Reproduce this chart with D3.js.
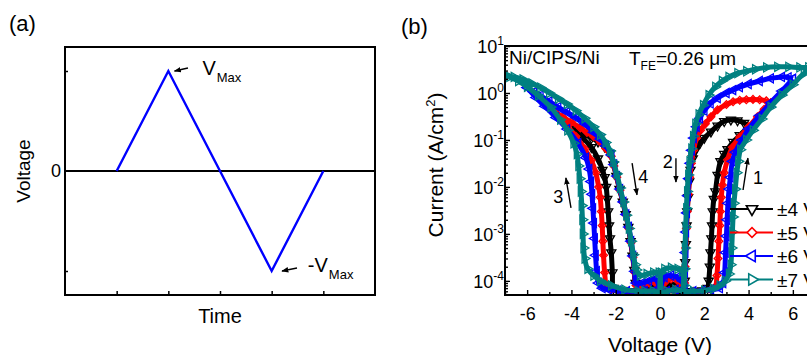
<!DOCTYPE html>
<html>
<head>
<meta charset="utf-8">
<script src="https://cdn.jsdelivr.net/npm/d3@7"></script>
<style>
  body { margin: 0; background: #fff; }
  svg { display: block; }
</style>
</head>
<body>
<svg id="chart" width="807" height="355"></svg>
<script>
// ---- panel (a): one period of the triangular voltage wave
const waveTime = [0, 1, 2, 3, 4];
const waveVolt = [0, 1, 0, -1, 0];

// ---- panel (b): J-V loops, each branch as [V, J]
// branch 1: 0 -> +Vmax, 2: +Vmax -> 0, 3: 0 -> -Vmax, 4: -Vmax -> 0
const black1 = [[0, 5e-5], [0.3, 6e-5], [0.7, 6e-5], [1.1, 5.8e-5], [1.5, 6e-5], [1.9, 6.2e-5], [2.15, 7e-5], [2.2, 1e-4], [2.25, 2e-4], [2.28, 4e-4], [2.32, 8e-4], [2.35, 1.5e-3], [2.38, 3e-3], [2.43, 5.5e-3], [2.5, 8e-3], [2.6, 0.018], [2.73, 0.035], [2.9, 0.05], [3.05, 0.063], [3.3, 0.09], [3.6, 0.125], [4.0, 0.19]];
const black2 = [[4.0, 0.19], [3.8, 0.23], [3.5, 0.26], [3.2, 0.27], [2.9, 0.25], [2.6, 0.2], [2.3, 0.15], [2.0, 0.11], [1.8, 0.085], [1.6, 0.06], [1.48, 0.04], [1.38, 0.023], [1.32, 0.013], [1.27, 6e-3], [1.23, 3e-3], [1.2, 1.5e-3], [1.17, 6e-4], [1.14, 2.5e-4], [1.12, 1e-4], [1.1, 6e-5], [1.0, 7e-5], [0.7, 8e-5], [0.4, 8e-5], [0.1, 7e-5], [0, 5e-5]];
const black3 = [[0, 5e-5], [-0.3, 6e-5], [-0.7, 6e-5], [-1.1, 6e-5], [-1.5, 6e-5], [-1.9, 6.2e-5], [-2.1, 7e-5], [-2.15, 1.5e-4], [-2.2, 4e-4], [-2.26, 8e-4], [-2.3, 1.5e-3], [-2.34, 3e-3], [-2.38, 5.5e-3], [-2.43, 0.01], [-2.5, 0.016], [-2.6, 0.023], [-2.8, 0.04], [-3.1, 0.07], [-3.5, 0.11], [-4.0, 0.17]];
const black4 = [[-4.0, 0.17], [-3.7, 0.15], [-3.4, 0.13], [-3.1, 0.11], [-2.8, 0.092], [-2.5, 0.072], [-2.25, 0.052], [-2.1, 0.03], [-1.97, 0.017], [-1.83, 9e-3], [-1.68, 4.8e-3], [-1.55, 2.6e-3], [-1.43, 1.4e-3], [-1.33, 7e-4], [-1.24, 3.4e-4], [-1.16, 1.7e-4], [-1.1, 9e-5], [-0.8, 7e-5], [-0.5, 8e-5], [-0.2, 8e-5], [0, 5e-5]];

const red1 = [[0, 5e-5], [0.3, 6e-5], [0.7, 6.5e-5], [1.1, 6e-5], [1.5, 6e-5], [1.9, 6.2e-5], [2.3, 6.5e-5], [2.5, 7.5e-5], [2.57, 1.3e-4], [2.62, 3e-4], [2.66, 7e-4], [2.7, 1.5e-3], [2.73, 3e-3], [2.77, 6e-3], [2.82, 0.011], [2.9, 0.02], [3.05, 0.038], [3.27, 0.07], [3.6, 0.115], [4.0, 0.19], [4.4, 0.31], [4.7, 0.45], [5.0, 0.62]];
const red2 = [[5.0, 0.62], [4.8, 0.68], [4.5, 0.72], [4.2, 0.73], [3.9, 0.72], [3.6, 0.7], [3.3, 0.65], [3.0, 0.57], [2.6, 0.44], [2.3, 0.31], [2.05, 0.22], [1.83, 0.16], [1.65, 0.11], [1.52, 0.06], [1.42, 0.032], [1.34, 0.016], [1.28, 7e-3], [1.23, 3e-3], [1.19, 1.3e-3], [1.16, 5e-4], [1.13, 2e-4], [1.11, 9e-5], [1.08, 6e-5], [1.0, 8e-5], [0.8, 1e-4], [0.5, 1.1e-4], [0.2, 9e-5], [0, 5e-5]];
const red3 = [[0, 5e-5], [-0.3, 6e-5], [-0.7, 6e-5], [-1.1, 6e-5], [-1.5, 6e-5], [-1.9, 6.2e-5], [-2.2, 6.5e-5], [-2.4, 7.5e-5], [-2.5, 1.5e-4], [-2.55, 3.5e-4], [-2.58, 7e-4], [-2.61, 1.5e-3], [-2.65, 3e-3], [-2.7, 6e-3], [-2.77, 0.01], [-2.9, 0.02], [-3.1, 0.037], [-3.4, 0.065], [-3.8, 0.12], [-4.2, 0.2], [-4.6, 0.32], [-5.0, 0.48]];
const red4 = [[-5.0, 0.48], [-4.7, 0.38], [-4.4, 0.31], [-4.0, 0.24], [-3.6, 0.18], [-3.3, 0.145], [-3.0, 0.117], [-2.7, 0.09], [-2.45, 0.066], [-2.2, 0.045], [-2.08, 0.028], [-1.95, 0.016], [-1.81, 8.5e-3], [-1.66, 4.6e-3], [-1.53, 2.5e-3], [-1.41, 1.3e-3], [-1.31, 6.5e-4], [-1.22, 3.2e-4], [-1.14, 1.5e-4], [-1.08, 8e-5], [-0.8, 7e-5], [-0.5, 9e-5], [-0.2, 9e-5], [0, 5e-5]];

const blue1 = [[0, 5e-5], [0.3, 6e-5], [0.7, 6.5e-5], [1.1, 6e-5], [1.5, 6e-5], [1.9, 6.2e-5], [2.3, 6.5e-5], [2.7, 7e-5], [2.85, 9e-5], [2.92, 1.5e-4], [2.96, 4e-4], [3.0, 9e-4], [3.03, 2e-3], [3.07, 4.5e-3], [3.12, 9e-3], [3.18, 0.016], [3.27, 0.035], [3.4, 0.055], [3.7, 0.1], [4.0, 0.17], [4.5, 0.33], [5.0, 0.62], [5.5, 1.1], [6.0, 2.0]];
const blue2 = [[6.0, 2.0], [5.8, 2.15], [5.5, 2.2], [5.0, 2.05], [4.5, 1.8], [4.0, 1.55], [3.6, 1.33], [3.3, 1.15], [3.0, 1.0], [2.6, 0.78], [2.28, 0.6], [2.0, 0.42], [1.8, 0.29], [1.65, 0.19], [1.52, 0.11], [1.43, 0.06], [1.36, 0.032], [1.3, 0.015], [1.25, 6.5e-3], [1.21, 2.8e-3], [1.17, 1.1e-3], [1.14, 4e-4], [1.12, 1.5e-4], [1.1, 7e-5], [1.0, 1e-4], [0.8, 1.2e-4], [0.5, 1.3e-4], [0.2, 1.2e-4], [0, 5e-5]];
const blue3 = [[0, 5e-5], [-0.3, 6e-5], [-0.7, 6e-5], [-1.1, 6e-5], [-1.5, 6e-5], [-1.9, 6.2e-5], [-2.3, 6.5e-5], [-2.6, 7e-5], [-2.78, 9e-5], [-2.86, 1.6e-4], [-2.91, 3.5e-4], [-2.95, 8e-4], [-2.99, 1.7e-3], [-3.03, 3.5e-3], [-3.07, 7e-3], [-3.12, 0.013], [-3.2, 0.024], [-3.35, 0.042], [-3.7, 0.085], [-4.2, 0.17], [-4.7, 0.3], [-5.2, 0.52], [-5.6, 0.8], [-6.0, 1.3]];
const blue4 = [[-6.0, 1.3], [-5.7, 1.05], [-5.4, 0.88], [-5.0, 0.66], [-4.6, 0.5], [-4.2, 0.39], [-3.8, 0.3], [-3.4, 0.22], [-3.0, 0.145], [-2.7, 0.105], [-2.45, 0.075], [-2.2, 0.048], [-2.08, 0.03], [-1.95, 0.017], [-1.81, 9e-3], [-1.66, 4.8e-3], [-1.53, 2.6e-3], [-1.41, 1.4e-3], [-1.31, 7e-4], [-1.22, 3.4e-4], [-1.14, 1.6e-4], [-1.08, 9e-5], [-0.8, 9e-5], [-0.5, 1e-4], [-0.2, 1.1e-4], [0, 5e-5]];

const teal1 = [[0, 5e-5], [0.3, 6e-5], [0.7, 6.5e-5], [1.1, 6e-5], [1.5, 6e-5], [2.0, 6.2e-5], [2.4, 6.8e-5], [2.7, 8e-5], [2.95, 1e-4], [3.12, 1.4e-4], [3.2, 2.2e-4], [3.24, 5e-4], [3.27, 1.1e-3], [3.3, 2.3e-3], [3.34, 4.5e-3], [3.4, 9e-3], [3.47, 0.02], [3.54, 0.035], [3.63, 0.062], [3.9, 0.1], [4.2, 0.16], [4.6, 0.28], [5.0, 0.5], [5.5, 0.9], [6.0, 1.5], [6.5, 2.6], [7.0, 3.5]];
const teal2 = [[7.0, 3.5], [6.7, 3.5], [6.3, 3.5], [5.8, 3.6], [5.3, 3.6], [4.8, 3.5], [4.3, 3.2], [3.9, 2.9], [3.5, 2.65], [3.1, 2.2], [2.8, 1.8], [2.5, 1.35], [2.2, 0.9], [1.95, 0.55], [1.75, 0.35], [1.6, 0.22], [1.5, 0.12], [1.42, 0.065], [1.34, 0.035], [1.28, 0.018], [1.23, 8e-3], [1.19, 3.5e-3], [1.16, 1.4e-3], [1.13, 5e-4], [1.11, 1.8e-4], [1.09, 8e-5], [1.0, 1.6e-4], [0.8, 1.8e-4], [0.5, 1.9e-4], [0.2, 1.8e-4], [0.05, 1.5e-4], [0, 5e-5]];
const teal3 = [[0, 5e-5], [-0.3, 6e-5], [-0.7, 6e-5], [-1.0, 6e-5], [-1.6, 6.5e-5], [-2.2, 8e-5], [-2.7, 1e-4], [-3.0, 1.3e-4], [-3.27, 1.8e-4], [-3.4, 3e-4], [-3.45, 5e-4], [-3.48, 1e-3], [-3.5, 2e-3], [-3.53, 4e-3], [-3.57, 8e-3], [-3.62, 0.015], [-3.68, 0.028], [-3.75, 0.05], [-3.9, 0.085], [-4.18, 0.16], [-4.5, 0.27], [-4.94, 0.5], [-5.5, 0.88], [-6.0, 1.35], [-6.4, 1.8], [-6.8, 2.2], [-7.0, 2.4]];
const teal4 = [[-7.0, 2.4], [-6.6, 2.2], [-6.2, 1.95], [-5.8, 1.6], [-5.4, 1.3], [-5.0, 1.0], [-4.6, 0.76], [-4.2, 0.58], [-3.8, 0.42], [-3.4, 0.29], [-3.0, 0.19], [-2.7, 0.13], [-2.45, 0.088], [-2.25, 0.058], [-2.1, 0.034], [-1.95, 0.019], [-1.8, 9.5e-3], [-1.65, 4.8e-3], [-1.52, 2.5e-3], [-1.4, 1.3e-3], [-1.3, 7e-4], [-1.2, 3.6e-4], [-1.12, 2.2e-4], [-1.06, 1.7e-4], [-0.9, 1.3e-4], [-0.6, 1.4e-4], [-0.3, 1.5e-4], [-0.05, 1.5e-4], [0, 5e-5]];

const xTicksB = [-6, -4, -2, 0, 2, 4, 6];
const xMinorB = [-7, -5, -3, -1, 1, 3, 5, 7];
const yTicksB = [1e-4, 1e-3, 1e-2, 1e-1, 1, 10];
const yExpB = ["-4", "-3", "-2", "-1", "0", "1"];
const legendLabels = ["\u00b14 V", "\u00b15 V", "\u00b16 V", "\u00b17 V"];
const sweepColors = ["#000000", "#ff0000", "#0000ff", "#008080"];

const font = "'Liberation Sans', Arial, Helvetica, sans-serif";
const svg = d3.select("#chart");

// arrow head used by the annotations
svg.append("defs").append("marker")
    .attr("id", "head")
    .attr("viewBox", "0 0 10 10")
    .attr("refX", 9).attr("refY", 5)
    .attr("markerWidth", 5).attr("markerHeight", 5)
    .attr("orient", "auto")
    .append("path")
    .attr("d", "M0,1 L10,5 L0,9 Z")
    .attr("fill", "#000");

svg.select("defs").append("clipPath").attr("id", "plotClip")
    .append("rect").attr("x", 505).attr("y", 46).attr("width", 310).attr("height", 249);

function addText(g, x, y, str, size, anchor) {
    return g.append("text")
        .attr("x", x).attr("y", y)
        .attr("font-family", font)
        .attr("font-size", size)
        .attr("text-anchor", anchor || "start")
        .attr("fill", "#000")
        .text(str);
}

function arrow(g, x1, y1, x2, y2) {
    g.append("line")
        .attr("x1", x1).attr("y1", y1).attr("x2", x2).attr("y2", y2)
        .attr("stroke", "#000").attr("stroke-width", 1.4)
        .attr("marker-end", "url(#head)");
}

// ================= panel (a)
const xa = d3.scaleLinear().domain([-1, 5]).range([65, 375]);
const ya = d3.scaleLinear().domain([-1.24, 1.24]).range([295, 47]);
const ga = svg.append("g");

ga.append("line")
    .attr("x1", 65).attr("x2", 375)
    .attr("y1", ya(0)).attr("y2", ya(0))
    .attr("stroke", "#000").attr("stroke-width", 2);

ga.append("path")
    .datum(waveTime.map((t, i) => [t, waveVolt[i]]))
    .attr("d", d3.line().x(d => xa(d[0])).y(d => ya(d[1])))
    .attr("fill", "none")
    .attr("stroke", "#0000ff")
    .attr("stroke-width", 2.4);

const axA = ga.append("g").attr("transform", "translate(0,295)")
    .call(d3.axisBottom(xa).tickValues(waveTime).tickSizeInner(-4).tickSizeOuter(0).tickFormat(""));
const ayA = ga.append("g").attr("transform", "translate(65,0)")
    .call(d3.axisLeft(ya).tickValues([-1, 1]).tickSizeInner(-3).tickSizeOuter(0).tickFormat(""));
[axA, ayA].forEach(a => {
    a.select(".domain").remove();
    a.selectAll("line").attr("stroke-width", 1.5);
});

ga.append("rect")
    .attr("x", 65).attr("y", 47).attr("width", 310).attr("height", 248)
    .attr("fill", "none").attr("stroke", "#000").attr("stroke-width", 2);

addText(ga, 61, ya(0) + 6, "0", 18, "end");
addText(ga, 0, 0, "Voltage", 19, "middle").attr("transform", `translate(30,${ya(0)}) rotate(-90)`);
addText(ga, xa(2), 323, "Time", 20, "middle");
addText(ga, 9, 31, "(a)", 22);

const vmax = addText(ga, xa(1.66), ya(0.965), "V", 20);
vmax.append("tspan").attr("font-size", 13).attr("dy", 7).attr("dx", 1).text("Max");
arrow(ga, xa(1.38), ya(1.03), xa(1.12), ya(1.0));
const vmin = addText(ga, xa(3.7), ya(-1.01), "-V", 20);
vmin.append("tspan").attr("font-size", 13).attr("dy", 7).attr("dx", 1).text("Max");
arrow(ga, xa(3.49), ya(-0.97), xa(3.2), ya(-1.0));

// ================= panel (b)
const xB = d3.scaleLinear().domain([-7, 7]).range([505, 815]);
const yB = d3.scaleLog().domain([5e-5, 10]).range([295, 46]);
const gb = svg.append("g");

const sweeps = [
    { color: sweepColors[0], shape: "down", branches: [black1, black2, black3, black4] },
    { color: sweepColors[1], shape: "diamond", branches: [red1, red2, red3, red4] },
    { color: sweepColors[2], shape: "left", branches: [blue1, blue2, blue3, blue4] },
    { color: sweepColors[3], shape: "right", branches: [teal1, teal2, teal3, teal4] }
];

const triangle = d3.symbol().type(d3.symbolTriangle).size(36)();
const square = d3.symbol().type(d3.symbolSquare).size(30)();
const shapes = {
    down: { d: triangle, rot: 180 },
    diamond: { d: square, rot: 45 },
    left: { d: triangle, rot: -90 },
    right: { d: triangle, rot: 90 }
};

const curve = d3.line()
    .x(d => xB(d[0]))
    .y(d => yB(d[1]))
    .curve(d3.curveCatmullRom.alpha(0.5));

const plot = gb.append("g").attr("clip-path", "url(#plotClip)");

sweeps.forEach(s => {
    const shp = shapes[s.shape];
    s.branches.forEach(b => {
        // thick band stands in for the densely packed open symbols
        plot.append("path")
            .datum(b)
            .attr("d", curve)
            .attr("fill", "none")
            .attr("stroke", s.color)
            .attr("stroke-width", 5)
            .attr("stroke-linejoin", "round");
        plot.append("g").selectAll("path")
            .data(b)
            .join("path")
            .attr("d", shp.d)
            .attr("transform", d => `translate(${xB(d[0])},${yB(d[1])}) rotate(${shp.rot})`)
            .attr("fill", "none")
            .attr("stroke", s.color)
            .attr("stroke-width", 1.3);
    });
});

// axes, ticks inward
const axB = gb.append("g").attr("transform", "translate(0,295)")
    .call(d3.axisBottom(xB).tickValues(xTicksB).tickSizeInner(-5).tickSizeOuter(0).tickPadding(12)
        .tickFormat(d => String(d)));
const axBm = gb.append("g").attr("transform", "translate(0,295)")
    .call(d3.axisBottom(xB).tickValues(xMinorB).tickSizeInner(-3).tickSizeOuter(0).tickFormat(""));
axB.attr("font-family", font).attr("font-size", 18);
axB.selectAll("text").attr("fill", "#000");

const yMinorB = [];
for (let e = -5; e <= 0; e++) {
    for (let m = 2; m <= 9; m++) {
        const v = m * Math.pow(10, e);
        if (v > 5e-5 && v < 10) yMinorB.push(v);
    }
}
const ayB = gb.append("g").attr("transform", "translate(505,0)")
    .call(d3.axisLeft(yB).tickValues(yTicksB).tickSizeInner(-5).tickSizeOuter(0).tickFormat(""));
const ayBm = gb.append("g").attr("transform", "translate(505,0)")
    .call(d3.axisLeft(yB).tickValues(yMinorB).tickSizeInner(-3).tickSizeOuter(0).tickFormat(""));
[axB, axBm, ayB, ayBm].forEach(a => {
    a.select(".domain").remove();
    a.selectAll("line").attr("stroke", "#000").attr("stroke-width", 1.4);
});

yTicksB.forEach((v, i) => {
    const t = addText(gb, 504, yB(v) + 7, "10", 18, "end");
    t.append("tspan").attr("font-size", 12).attr("dy", -8).text(yExpB[i]);
});

gb.append("rect")
    .attr("x", 505).attr("y", 46).attr("width", 310).attr("height", 249)
    .attr("fill", "none").attr("stroke", "#000").attr("stroke-width", 2);

addText(gb, 401, 34, "(b)", 22);
addText(gb, xB(0), 352, "Voltage (V)", 21, "middle");
const ylab = addText(gb, 0, 0, "Current (A/cm", 21, "middle").attr("transform", "translate(443,165) rotate(-90)");
ylab.append("tspan").attr("font-size", 13).attr("dy", -8).text("2");
ylab.append("tspan").attr("dy", 8).text(")");

addText(gb, 509, 64, "Ni/CIPS/Ni", 19);
const tfe = addText(gb, 629, 65, "T", 19);
tfe.append("tspan").attr("font-size", 12).attr("dy", 5).text("FE");
tfe.append("tspan").attr("dy", -5).text("=0.26 \u03bcm");

// sweep direction arrows
arrow(gb, xB(3.75), yB(8.6e-3), xB(3.97), yB(0.041));
addText(gb, xB(4.2), yB(0.0115), "1", 18);
arrow(gb, xB(0.72), yB(0.041), xB(0.72), yB(0.0127));
addText(gb, xB(0.58), yB(0.025), "2", 18, "end");
arrow(gb, xB(-4.02), yB(3.6e-3), xB(-4.25), yB(0.0155));
addText(gb, xB(-4.6), yB(4.6e-3), "3", 18, "middle");
arrow(gb, xB(-1.26), yB(0.032), xB(-1.04), yB(6.8e-3));
addText(gb, xB(-0.98), yB(0.0121), "4", 18);

// legend
const legendShapes = [
    d3.symbol().type(d3.symbolTriangle).size(55)(),
    d3.symbol().type(d3.symbolSquare).size(48)(),
    d3.symbol().type(d3.symbolTriangle).size(55)(),
    d3.symbol().type(d3.symbolTriangle).size(55)()
];
sweeps.forEach((s, i) => {
    const y = 209 + i * 23.5;
    gb.append("line")
        .attr("x1", 730).attr("x2", 773).attr("y1", y).attr("y2", y)
        .attr("stroke", s.color).attr("stroke-width", 2);
    gb.append("path")
        .attr("d", legendShapes[i])
        .attr("transform", `translate(752,${y}) rotate(${shapes[s.shape].rot})`)
        .attr("fill", "#fff")
        .attr("stroke", s.color)
        .attr("stroke-width", 1.6);
    addText(gb, 777, y + 7, legendLabels[i], 19);
});
</script>
</body>
</html>
